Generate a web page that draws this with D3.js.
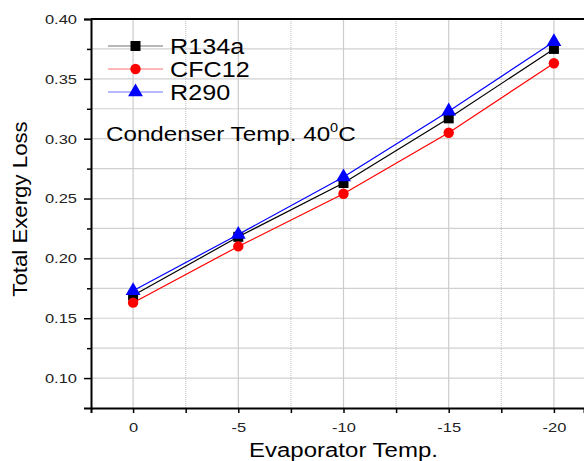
<!DOCTYPE html>
<html>
<head>
<meta charset="utf-8">
<script src="https://cdn.jsdelivr.net/npm/d3@7"></script>
<style>
  body { margin: 0; background: #fff; }
  svg { font-family: Arial, "Liberation Sans", sans-serif; }
</style>
</head>
<body>
<div id="chart"></div>
<script>
// data
let evapTemps = [0, -5, -10, -15, -20];
let r134a = [0.169, 0.218, 0.263, 0.317, 0.375];
let cfc12 = [0.163, 0.210, 0.254, 0.305, 0.363];
let r290 = [0.173, 0.220, 0.268, 0.323, 0.381];
let seriesNames = ["R134a", "CFC12", "R290"];
let yTicks = [0.10, 0.15, 0.20, 0.25, 0.30, 0.35, 0.40];

let width = 584, height = 461;
let margin = { left: 91, top: 19, bottom: 53 };

// the original picture is a bit wider than tall, so text is stretched sideways
let stretch = function (sel, sx) {
    sel.each(function () {
        let w = this.getComputedTextLength();
        d3.select(this).attr("textLength", w * sx).attr("lengthAdjust", "spacingAndGlyphs");
    });
};

let svg = d3.select("#chart").append("svg")
    .attr("width", width)
    .attr("height", height);

// x runs backwards (0 on the left, -20 to the right)
let x = d3.scaleLinear().domain([2, -21.43]).range([margin.left, width]);
let y = d3.scaleLinear().domain([0.075, 0.40]).range([height - margin.bottom, margin.top]);

let bottom = height - margin.bottom;

// grid
let grid = svg.append("g");
let yGrid = d3.range(0.1, 0.4001, 0.025);
grid.selectAll(".hg").data(yGrid).enter().append("line")
    .attr("x1", margin.left).attr("x2", width)
    .attr("y1", d => y(d)).attr("y2", d => y(d))
    .attr("stroke", "#d0d0d0").attr("stroke-width", 1.2);
grid.selectAll(".vg").data(evapTemps).enter().append("line")
    .attr("x1", d => x(d)).attr("x2", d => x(d))
    .attr("y1", margin.top).attr("y2", bottom)
    .attr("stroke", "#cccccc").attr("stroke-width", 1.2);
let minorX = [-2.5, -7.5, -12.5, -17.5];
grid.selectAll(".vgm").data(minorX).enter().append("line")
    .attr("x1", d => x(d)).attr("x2", d => x(d))
    .attr("y1", margin.top).attr("y2", bottom)
    .attr("stroke", "#c8c8c8").attr("stroke-width", 1.2)
    .attr("stroke-dasharray", "1,1");

// axes
let xAxis = d3.axisBottom(x).tickValues(evapTemps).tickSize(5).tickFormat(d => String(d));
let gx = svg.append("g").attr("transform", "translate(0," + bottom + ")").call(xAxis);
svg.append("g").attr("transform", "translate(0," + bottom + ")")
    .call(d3.axisBottom(x).tickValues(minorX).tickSize(5).tickFormat(""))
    .select(".domain").remove();

let yAxis = d3.axisLeft(y).tickValues(yTicks).tickSize(7).tickFormat(d3.format(".2f"));
let gy = svg.append("g").attr("transform", "translate(" + margin.left + ",0)").call(yAxis);
svg.append("g").attr("transform", "translate(" + margin.left + ",0)")
    .call(d3.axisLeft(y).tickValues([0.125, 0.175, 0.225, 0.275, 0.325, 0.375]).tickSize(4).tickFormat(""))
    .select(".domain").remove();

svg.selectAll(".domain").attr("stroke", "#000").attr("stroke-width", 2);
svg.selectAll(".tick line").attr("stroke", "#000").attr("stroke-width", 1.5);
svg.selectAll(".tick text").attr("font-size", 13.5).attr("fill", "#222")
    .attr("font-family", "Arial, 'Liberation Sans', sans-serif");
gx.selectAll(".tick text").attr("dy", "1.15em");
gy.selectAll(".tick text").attr("dx", "-0.3em");
stretch(svg.selectAll(".tick text"), 1.22);

// top border
svg.append("line")
    .attr("x1", margin.left).attr("x2", width)
    .attr("y1", margin.top).attr("y2", margin.top)
    .attr("stroke", "#000").attr("stroke-width", 2);

// series
let series = [
    { name: seriesNames[0], values: r134a, color: "#000000", shape: d3.symbolSquare, size: 100 },
    { name: seriesNames[1], values: cfc12, color: "#ff0000", shape: d3.symbolCircle, size: 85 },
    { name: seriesNames[2], values: r290, color: "#0000ff", shape: d3.symbolTriangle, size: 95 }
];

let line = d3.line()
    .x((d, i) => x(evapTemps[i]))
    .y(d => y(d));

series.forEach(function (s) {
    svg.append("path")
        .datum(s.values)
        .attr("d", line)
        .attr("fill", "none")
        .attr("stroke", s.color)
        .attr("stroke-width", 1.2);
    svg.selectAll(null).data(s.values).enter().append("path")
        .attr("d", d3.symbol().type(s.shape).size(s.size))
        .attr("transform", (d, i) => "translate(" + x(evapTemps[i]) + "," + y(d) + ")")
        .attr("fill", s.color);
});

// legend
let legend = svg.append("g").attr("transform", "translate(108,46)");
series.forEach(function (s, i) {
    let g = legend.append("g").attr("transform", "translate(0," + (i * 23) + ")");
    g.append("line").attr("x1", 0).attr("x2", 55).attr("y1", 0).attr("y2", 0)
        .attr("stroke", s.color).attr("stroke-width", 1.2).attr("opacity", 0.55);
    g.append("path").attr("d", d3.symbol().type(s.shape).size(s.size))
        .attr("transform", "translate(27.5,0)").attr("fill", s.color);
    let t = g.append("text").attr("x", 62).attr("y", 7.5).attr("font-size", 21.5).text(s.name);
    stretch(t, 1.17);
});

// note
let note = svg.append("text")
    .attr("transform", "translate(106,141) scale(1.21,1)")
    .attr("font-size", 20);
note.append("tspan").text("Condenser Temp. 40");
note.append("tspan").attr("font-size", 12).attr("dy", -9).text("0");
note.append("tspan").attr("dy", 9).text("C");

// axis titles
let xt = svg.append("text")
    .attr("x", x(-10)).attr("y", 457)
    .attr("text-anchor", "middle").attr("font-size", 20)
    .text("Evaporator Temp.");
stretch(xt, 1.2);
let yt = svg.append("text")
    .attr("transform", "translate(27,209) rotate(-90)")
    .attr("text-anchor", "middle").attr("font-size", 19.5)
    .text("Total Exergy Loss");
stretch(yt, 1.14);
</script>
</body>
</html>
